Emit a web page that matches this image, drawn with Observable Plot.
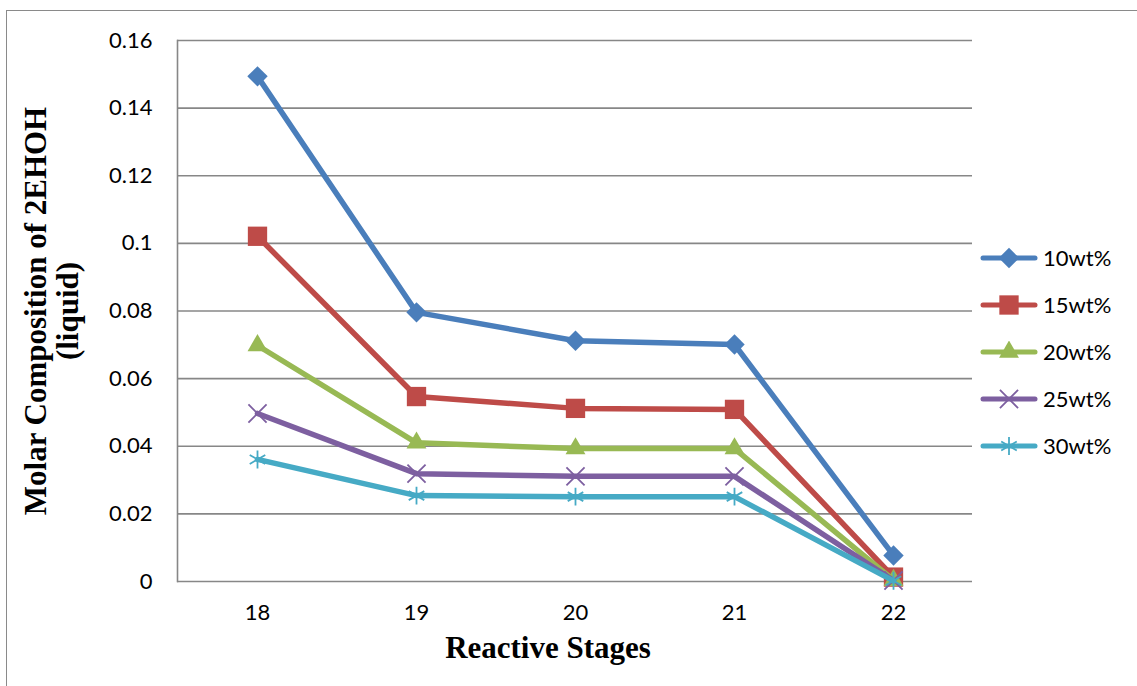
<!DOCTYPE html>
<html>
<head>
<meta charset="utf-8">
<script src="https://cdn.jsdelivr.net/npm/d3@7"></script>
<script src="https://cdn.jsdelivr.net/npm/@observablehq/plot@0.6"></script>
<style>
  html, body { margin: 0; padding: 0; background: #fff; }
  #wrap { position: relative; width: 1137px; height: 686px; overflow: hidden; font-family: Lato, "Open Sans", sans-serif; }
  #border { position: absolute; left: 6px; top: 10px; right: -10px; bottom: -10px; border-left: 1.5px solid #8a8a8a; border-top: 1.5px solid #8a8a8a; }
  #legend { position: absolute; left: 980px; top: 234px; }
  .row { display: flex; align-items: center; height: 47px; font-size: 22px; color: #000; }
  .row svg { margin-right: 5px; }
</style>
</head>
<body>
<div id="wrap"><div id="border"></div><div id="legend"></div></div>
<script>
// Reactive stages along the x axis
const stages = [18, 19, 20, 21, 22];
// Liquid-phase molar composition of 2EHOH for each catalyst loading
const wt10 = [0.1494, 0.0796, 0.0712, 0.0701, 0.0077];
const wt15 = [0.1021, 0.0547, 0.0512, 0.0509, 0.0013];
const wt20 = [0.0698, 0.0410, 0.0393, 0.0393, 0.0004];
const wt25 = [0.0497, 0.0319, 0.0311, 0.0311, 0.0003];
const wt30 = [0.0361, 0.0254, 0.0251, 0.0251, 0.0002];
const seriesNames = ["10wt%", "15wt%", "20wt%", "25wt%", "30wt%"];
const yTicks = [0, 0.02, 0.04, 0.06, 0.08, 0.1, 0.12, 0.14, 0.16];

const seriesValues = [wt10, wt15, wt20, wt25, wt30];
const colors = ["#4A7EBB", "#BE4B48", "#98B954", "#7D5FA0", "#46AAC5"];
const symbols = ["diamond2", "square2", "triangle2", "times", "asterisk"];
const radii = [9.2, 12.3, 9.5, 8.3, 8.5];
const filled = [true, true, true, false, false];

const rows = seriesNames.flatMap((name, i) =>
  stages.map((s, j) => ({series: name, stage: s, value: seriesValues[i][j]})));

const serif = "'Liberation Serif', 'Times New Roman', serif";

const marks = [
  Plot.ruleY(yTicks, {stroke: "#878787", strokeWidth: 1.6}),
  Plot.frame({anchor: "left", stroke: "#878787", strokeWidth: 1.6}),
  Plot.axisY({ticks: yTicks, tickSize: 0, tickPadding: 25, fontSize: 22, label: null,
    tickFormat: d => String(d)}),
  Plot.axisX({tickSize: 0, tickPadding: 23, fontSize: 22, label: null}),
  Plot.text(["Molar Composition of 2EHOH\n(liquid)"], {
    frameAnchor: "left", dx: -126, rotate: -90, textAnchor: "middle", lineAnchor: "middle",
    fontSize: 31, fontWeight: "bold", fontFamily: serif, lineHeight: 1.05, fill: "#000"
  }),
  Plot.text(["Reactive Stages"], {
    frameAnchor: "bottom", dx: -27, dy: 67, textAnchor: "middle", lineAnchor: "middle",
    fontSize: 31, fontWeight: "bold", fontFamily: serif, fill: "#000"
  })
];

seriesNames.forEach((name, i) => {
  const data = rows.filter(d => d.series === name);
  marks.push(Plot.line(data, {x: "stage", y: "value", stroke: colors[i], strokeWidth: 5.5, strokeLinejoin: "round"}));
  marks.push(Plot.dot(data, {
    x: "stage", y: "value", symbol: symbols[i], r: radii[i],
    fill: filled[i] ? colors[i] : "none",
    stroke: colors[i], strokeWidth: filled[i] ? 0 : 1.8
  }));
});

const chart = Plot.plot({
  width: 1137,
  height: 686,
  marginLeft: 177,
  marginRight: 165,
  marginTop: 40,
  marginBottom: 105,
  style: {background: "transparent", fontFamily: "Lato, 'Open Sans', sans-serif", color: "#000"},
  x: {type: "point", domain: stages, padding: 0.5},
  y: {domain: [0, 0.16]},
  marks
});
chart.style.position = "absolute";
chart.style.left = "0";
chart.style.top = "0";
document.getElementById("wrap").appendChild(chart);

// Legend: a short line with the series marker, followed by its name
const legend = d3.select("#legend");
seriesNames.forEach((name, i) => {
  const row = legend.append("div").attr("class", "row");
  const svg = row.append("svg").attr("width", 58).attr("height", 22);
  svg.append("line").attr("x1", 3).attr("x2", 55).attr("y1", 11).attr("y2", 11)
    .attr("stroke", colors[i]).attr("stroke-width", 5).attr("stroke-linecap", "round");
  const symType = [d3.symbolDiamond2, d3.symbolSquare2, d3.symbolTriangle2, d3.symbolTimes, d3.symbolAsterisk][i];
  const size = Math.PI * radii[i] * radii[i];
  svg.append("path").attr("transform", "translate(29,11)")
    .attr("d", d3.symbol(symType, size)())
    .attr("fill", filled[i] ? colors[i] : "none")
    .attr("stroke", filled[i] ? "none" : colors[i])
    .attr("stroke-width", filled[i] ? 0 : 1.8);
  row.append("span").text(name);
});
</script>
</body>
</html>
